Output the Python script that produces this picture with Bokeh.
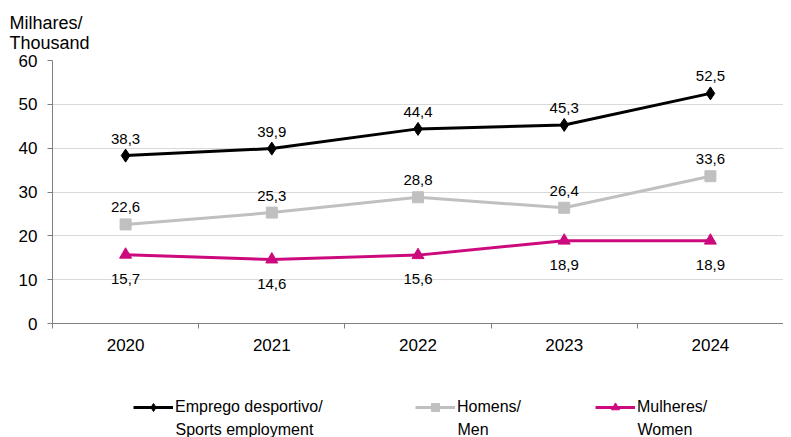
from bokeh.plotting import figure
from bokeh.models import (ColumnDataSource, Range1d, FixedTicker, Legend, LegendItem,
                          Title, LabelSet, Label)
from bokeh.layouts import column
from bokeh.core.properties import value
from bokeh.embed import file_html
from bokeh.resources import INLINE

years = [2020, 2021, 2022, 2023, 2024]
year_labels = ["2020", "2021", "2022", "2023", "2024"]
total = [38.3, 39.9, 44.4, 45.3, 52.5]
men = [22.6, 25.3, 28.8, 26.4, 33.6]
women = [15.7, 14.6, 15.6, 18.9, 18.9]
y_ticks = [0, 10, 20, 30, 40, 50, 60]

names_line1 = ["Emprego desportivo/", "Homens/", "Mulheres/"]
names_line2 = ["Sports employment", "Men", "Women"]
colors = ["#000000", "#C0C0C0", "#CC0A7D"]
markers = ["diamond", "square", "triangle"]
msizes = [13, 11, 12]

FONT = "Liberation Sans"

def fmt(v):
    return ("%.1f" % v).replace(".", ",")

p = figure(width=783, height=360, output_backend="svg", toolbar_location=None,
           x_range=Range1d(2019.5, 2024.5), y_range=Range1d(0, 60),
           min_border_left=52, min_border_right=0, min_border_top=60,
           min_border_bottom=37)
p.outline_line_color = None
p.background_fill_color = "white"
p.border_fill_color = "white"

# axes
p.xaxis.ticker = FixedTicker(ticks=years, minor_ticks=[y - 0.5 for y in years])
p.xaxis.major_label_overrides = {y: l for y, l in zip(years, year_labels)}
p.xaxis.major_tick_out = 0
p.xaxis.major_tick_in = 0
p.xaxis.minor_tick_out = 5
p.xaxis.minor_tick_in = 0
p.xaxis.minor_tick_line_color = "#808080"
p.xaxis.axis_line_color = "#808080"
p.xaxis.major_label_text_font = FONT
p.xaxis.major_label_text_font_size = "17px"
p.xaxis.major_label_text_color = "#000000"
p.xaxis.major_label_standoff = 10

p.yaxis.ticker = FixedTicker(ticks=y_ticks)
p.yaxis.major_tick_out = 5
p.yaxis.major_tick_in = 0
p.yaxis.minor_tick_line_color = None
p.yaxis.axis_line_color = "#808080"
p.yaxis.major_tick_line_color = "#808080"
p.yaxis.major_label_text_font = FONT
p.yaxis.major_label_text_font_size = "17px"
p.yaxis.major_label_text_color = "#000000"
p.yaxis.major_label_standoff = 10

p.xgrid.grid_line_color = None
p.ygrid.grid_line_color = "#D9D9D9"
p.ygrid.grid_line_width = 1

series = [total, men, women]
sources = []
for i, (vals, col, mk, ms) in enumerate(zip(series, colors, markers, msizes)):
    src = ColumnDataSource(dict(x=years, y=vals, lab=[fmt(v) for v in vals]))
    sources.append(src)
    p.line("x", "y", source=src, line_color=col, line_width=3)
    p.scatter("x", "y", source=src, marker=mk, size=ms, fill_color=col, line_color=col)
    if i < 2:
        ls = LabelSet(x="x", y="y", text="lab", source=src, text_align="center",
                      text_baseline="bottom", y_offset=12, text_font=value(FONT),
                      text_font_size=value("15px"), text_color="#000000")
    else:
        ls = LabelSet(x="x", y="y", text="lab", source=src, text_align="center",
                      text_baseline="top", y_offset=-19, text_font=value(FONT),
                      text_font_size=value("15px"), text_color="#000000")
    p.add_layout(ls)

# y axis title
t = Title(text="Milhares/\nThousand", align="left", offset=-43, text_font=FONT,
          text_font_size="18px", text_font_style="normal", text_color="#000000",
          standoff=16)
p.add_layout(t, "above")

# legend strip (series drawn off-range; only their legend swatches show)
lf = figure(width=783, height=77, output_backend="svg", toolbar_location=None,
            x_axis_type=None, y_axis_type=None, x_range=Range1d(0, 731), y_range=Range1d(0, 77),
            min_border_left=0, min_border_right=0, min_border_top=0, min_border_bottom=0)
lf.outline_line_color = None
lf.xgrid.grid_line_color = None
lf.ygrid.grid_line_color = None

leg_x = [81, 363, 543]
for src, col, mk, ms, n1, n2, lx in zip(sources, colors, markers, msizes,
                                       names_line1, names_line2, leg_x):
    l = lf.line("x", "y", source=src, line_color=col, line_width=3)
    s = lf.scatter("x", "y", source=src, marker=mk, size=ms, fill_color=col, line_color=col)
    leg = Legend(items=[LegendItem(label=n1, renderers=[l, s])],
                 location=(lx, 20), orientation="horizontal",
                 glyph_width=40, glyph_height=20, label_standoff=2,
                 label_text_font=FONT, label_text_font_size="16px",
                 label_text_color="#000000", padding=0, margin=0,
                 border_line_color=None, background_fill_alpha=0,
                 label_height=20)
    lf.add_layout(leg, "center")
    lf.add_layout(Label(x=lx + 42, y=8, text=n2, text_baseline="middle",
                        text_align="left", text_font=FONT, text_font_size="16px",
                        text_color="#000000"))

layout = column(p, lf, spacing=0)
open("out.html", "w").write(file_html(layout, INLINE))
